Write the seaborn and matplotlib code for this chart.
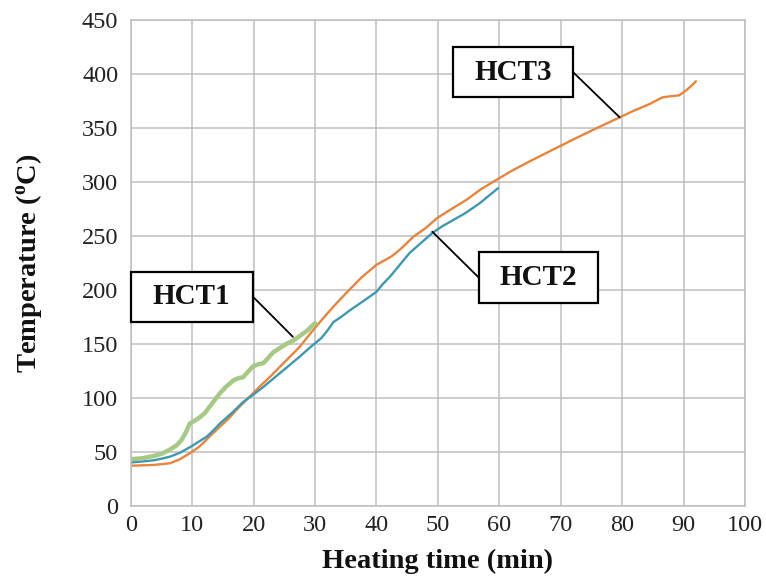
import numpy as np
import pandas as pd
import matplotlib
matplotlib.use("Agg")
import matplotlib.pyplot as plt
import seaborn as sns
from matplotlib.patches import Rectangle

# ---- data ----
hct1_t = [0, 2, 3.7, 5, 6.4, 7.5, 8.3, 9, 9.6, 10.5, 11.3, 12.1, 12.9, 13.7, 14.5, 15.5,
          16.7, 17.5, 18.3, 19.1, 19.9, 20.8, 21.6, 22.4, 23.2, 24.3, 25.4, 26.5, 27.5, 28.7, 30]
hct1_T = [43, 44, 46, 48, 52, 56, 61, 68, 76, 79, 82, 86, 92, 98, 104, 110,
          116, 118, 119, 124, 129, 131, 132, 137, 142, 146, 150, 153, 157, 162, 169]

hct2_t = [0, 2, 3.7, 5, 6.4, 8, 9.9, 11, 12.4, 13.5, 14.5, 16.5, 18.3, 20, 21.6, 23.5, 25.4,
          27.5, 29.7, 31, 32, 33, 34.3, 35.7, 37.5, 40, 41, 42.2, 43.8, 45.4, 47.2, 49.2,
          50.8, 52.5, 54.5, 56.8, 58.3, 59.8]
hct2_T = [40, 41, 42, 43.5, 45.4, 49, 55, 59, 64, 70, 76, 86, 96, 103, 110, 119, 128,
          138, 149, 155, 162, 170, 175, 181, 188, 198, 205, 212, 223, 234, 243, 253,
          259, 264.5, 271, 280, 287, 294]

hct3_t = [0, 3.7, 6.4, 8, 9.6, 11, 11.8, 13, 14.5, 16, 17.2, 18.5, 19.9, 21.3, 22.7, 24,
          25.4, 27.5, 29.7, 32, 34, 35.1, 37.5, 40, 42.5, 44, 46, 48, 49.8, 52, 54.6, 57,
          59.5, 62, 65, 68.5, 72, 76, 79.6, 82, 84.5, 86.5, 87.7, 89.3, 90.5, 91.3, 92]
hct3_T = [37, 37.7, 39.3, 43, 48.5, 54, 58, 65, 73, 81, 88.6, 96, 104, 112, 119.4, 127,
          135, 147, 162.7, 178, 190.5, 197, 211, 223, 231, 238, 249, 257, 266, 274, 283, 293,
          301.6, 310, 319, 329, 339, 350, 359.6, 366, 372, 378, 379, 380, 385, 389, 393]

series_names = ["HCT1", "HCT2", "HCT3"]
x_ticks = list(range(0, 101, 10))
y_ticks = list(range(0, 451, 50))

colors = {"HCT1": "#A6CA86", "HCT2": "#3F98B1", "HCT3": "#E8843C"}
widths = {"HCT1": 3.2, "HCT2": 1.7, "HCT3": 1.7}

df = pd.concat([
    pd.DataFrame({"t": hct1_t, "T": hct1_T, "s": "HCT1"}),
    pd.DataFrame({"t": hct2_t, "T": hct2_T, "s": "HCT2"}),
    pd.DataFrame({"t": hct3_t, "T": hct3_T, "s": "HCT3"}),
])

sns.set_style("white")
plt.rcParams["font.family"] = ["Liberation Serif", "DejaVu Serif"]
plt.rcParams["mathtext.fontset"] = "custom"
plt.rcParams["mathtext.rm"] = "Liberation Serif"
plt.rcParams["mathtext.bf"] = "Liberation Serif:bold"

fig = plt.figure(figsize=(7.66, 5.78), dpi=100)
ax = fig.add_axes([0.1706, 0.1251, 0.8020, 0.8408])

for name in ["HCT3", "HCT2", "HCT1"]:
    sns.lineplot(data=df[df["s"] == name], x="t", y="T", ax=ax, sort=False,
                 estimator=None, color=colors[name], lw=widths[name], legend=False)

ax.set_xlim(0, 100)
ax.set_ylim(0, 450)
ax.set_xticks(x_ticks)
ax.set_yticks(y_ticks)
ax.grid(True, color="#BEBEBE", lw=1.1)
ax.set_axisbelow(True)
for sp in ax.spines.values():
    sp.set_color("#BEBEBE")
    sp.set_linewidth(1.1)
ax.tick_params(axis="both", length=0, labelsize=17.5, colors="#222222")
ax.tick_params(axis="x", pad=7)
ax.tick_params(axis="y", pad=9)

ax.set_xlabel("Heating time (min)", fontsize=20.5, fontweight="bold", labelpad=9, color="#111111")
ax.set_ylabel(r"Temperature ($\mathregular{^{o}}$C)", fontsize=20.5, fontweight="bold",
              labelpad=27, color="#111111")

# ---- annotation boxes with leader lines ----
boxes = [
    # name, x0, x1, y0, y1, line start, line end
    ("HCT1", 0.0, 19.9, 170.4, 216.7, (19.9, 193.5), (26.4, 156.4)),
    ("HCT2", 56.7, 76.0, 188.0, 235.0, (56.7, 211.0), (49.1, 253.7)),
    ("HCT3", 52.4, 72.0, 378.0, 425.0, (72.0, 401.5), (79.6, 359.6)),
]
for name, x0, x1, y0, y1, p0, p1 in boxes:
    ax.plot([p0[0], p1[0]], [p0[1], p1[1]], color="black", lw=1.3, zorder=5)
    ax.add_patch(Rectangle((x0, y0), x1 - x0, y1 - y0, facecolor="white",
                           edgecolor="black", lw=1.6, zorder=6, clip_on=False))
    ax.text((x0 + x1) / 2, (y0 + y1) / 2, name, ha="center", va="center",
            fontsize=21, fontweight="bold", zorder=7, color="#111111")

fig.savefig("out.png", dpi=100)
